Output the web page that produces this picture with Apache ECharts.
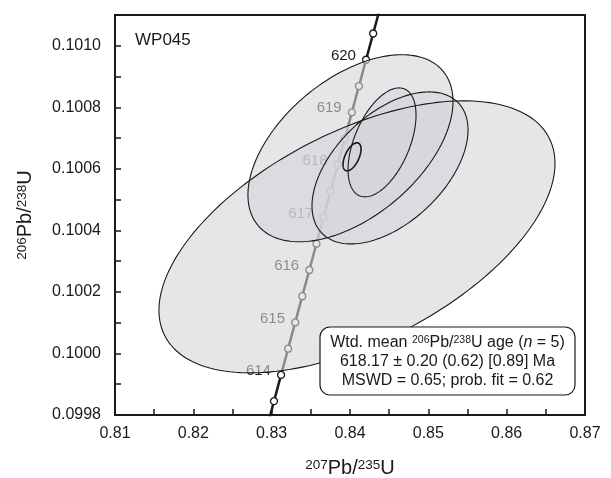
<!DOCTYPE html>
<html><head><meta charset="utf-8">
<script src="https://cdn.jsdelivr.net/npm/echarts@6/dist/echarts.min.js"></script>
<style>html,body{margin:0;padding:0;background:#fff}#c{width:611px;height:478px}</style>
</head><body><div id="c"></div>
<script>
// Concordia markers (every 0.5 Ma)
const ages  = [613.5, 614, 614.5, 615, 615.5, 616, 616.5, 617, 617.5, 618, 618.5, 619, 619.5, 620, 620.5];
const concX = [0.830299, 0.831200, 0.832102, 0.833004, 0.833907, 0.834810, 0.835713, 0.836617, 0.837522, 0.838427, 0.839332, 0.840238, 0.841144, 0.842050, 0.842957];
const concY = [0.0998449, 0.0999302, 0.1000155, 0.1001008, 0.1001861, 0.1002714, 0.1003567, 0.1004421, 0.1005275, 0.1006129, 0.1006983, 0.1007837, 0.1008691, 0.1009545, 0.1010399];
// curve ends beyond the plot frame
const tailX = [0.829398, 0.843864];
const tailY = [0.0997596, 0.1011253];

// Error ellipses: centre, half-extent in x and y, correlation
const ellCx  = [0.84089, 0.84006, 0.84511, 0.84409, 0.84026];
const ellCy  = [0.100379, 0.100667, 0.100603, 0.100686, 0.100639];
const ellSx  = [0.02528, 0.01309, 0.00996, 0.00434, 0.00115];
const ellSy  = [0.000442, 0.000304, 0.000247, 0.000177, 0.0000455];
const ellRho = [0.54, 0.50, 0.50, 0.50, 0.55];
const ellFilled = [true, true, true, true, false];

// Axes
const xMin = 0.81, xMax = 0.87, xStep = 0.005;
const yMin = 0.0998, yMax = 0.1011, yStep = 0.0001;

const FONT = "'Liberation Sans', Arial, Helvetica, sans-serif";
const INK = '#1a1a1a';

const chart = echarts.init(document.getElementById('c'), null, {renderer: 'canvas'});

const markerData = ages.map((a, i) => [concX[i], concY[i], a]);
const lineData = [[tailX[0], tailY[0]]].concat(ages.map((a, i) => [concX[i], concY[i]]), [[tailX[1], tailY[1]]]);
const ellData = ellCx.map((c, i) => [c, ellCy[i], i]);

function ellipsePoints(api, i) {
  const pts = [];
  const n = 180;
  const r = ellRho[i], q = Math.sqrt(1 - r * r);
  for (let k = 0; k <= n; k++) {
    const t = 2 * Math.PI * k / n;
    const x = ellCx[i] + ellSx[i] * Math.cos(t);
    const y = ellCy[i] + ellSy[i] * (r * Math.cos(t) + q * Math.sin(t));
    pts.push(api.coord([x, y]));
  }
  return pts;
}

const option = {
  animation: false,
  backgroundColor: '#fff',
  grid: {left: 115, right: 26, top: 15, bottom: 63, show: true, borderColor: INK, borderWidth: 2,
         backgroundColor: 'transparent', containLabel: false, outerBoundsMode: 'none'},
  xAxis: {
    type: 'value', min: xMin, max: xMax, interval: xStep,
    name: '{s|207}{m|Pb/}{s|235}{m|U}', nameLocation: 'middle', nameGap: 43,
    nameTextStyle: {rich: {
      m: {fontSize: 20, fontFamily: FONT, color: INK},
      s: {fontSize: 13.5, fontFamily: FONT, color: INK, verticalAlign: 'top'}
    }},
    axisLine: {show: true, lineStyle: {color: INK, width: 2}},
    axisTick: {show: true, inside: true, length: 6, lineStyle: {color: INK, width: 1.5}},
    splitLine: {show: false},
    axisLabel: {
      margin: 11, fontSize: 16, fontFamily: FONT, color: INK,
      formatter: v => (Math.round(v * 1000) % 10 === 0 ? v.toFixed(2) : '')
    }
  },
  yAxis: {
    type: 'value', min: yMin, max: yMax, interval: yStep,
    name: '{s|206}{m|Pb/}{s|238}{m|U}', nameLocation: 'middle', nameGap: 80, nameRotate: 90,
    nameTextStyle: {rich: {
      m: {fontSize: 20, fontFamily: FONT, color: INK},
      s: {fontSize: 13.5, fontFamily: FONT, color: INK, verticalAlign: 'top'}
    }},
    axisLine: {show: true, lineStyle: {color: INK, width: 2}},
    axisTick: {show: true, inside: true, length: 6, lineStyle: {color: INK, width: 1.5}},
    splitLine: {show: false},
    axisLabel: {
      margin: 14, fontSize: 16, fontFamily: FONT, color: INK,
      formatter: v => (Math.round(v * 10000) % 2 === 0 ? v.toFixed(4) : '')
    }
  },
  series: [
    {
      type: 'line', data: lineData, z: 2, symbol: 'none', clip: true, silent: true,
      lineStyle: {color: INK, width: 2.5}
    },
    {
      type: 'scatter', data: markerData, z: 3, symbol: 'circle', symbolSize: 7, silent: true,
      itemStyle: {color: '#fff', borderColor: INK, borderWidth: 1.3, opacity: 1},
      label: {
        show: true, position: 'left', distance: 6, offset: [0, -4],
        fontSize: 15, fontFamily: FONT, color: INK,
        formatter: p => (Number.isInteger(p.value[2]) ? String(p.value[2]) : '')
      }
    },
    {
      type: 'custom', data: ellData, z: 4, silent: true, clip: true,
      renderItem: (params, api) => {
        const i = params.dataIndex;
        if (!ellFilled[i]) return null;
        return {type: 'polygon', shape: {points: ellipsePoints(api, i)},
          style: {fill: 'rgba(212,213,217,0.6)', stroke: null}};
      }
    },
    {
      type: 'custom', data: ellData, z: 5, silent: true, clip: true,
      renderItem: (params, api) => {
        const i = params.dataIndex;
        return {type: 'polygon', shape: {points: ellipsePoints(api, i)},
          style: {fill: null, stroke: INK, lineWidth: ellFilled[i] ? 1.1 : 1.6}};
      }
    }
  ],
  graphic: [
    {type: 'text', x: 135, y: 40, z: 10,
     style: {text: 'WP045', fontSize: 17, fontFamily: FONT, fill: INK, verticalAlign: 'middle', align: 'left'}},
    {type: 'rect', z: 20, shape: {x: 320, y: 327, width: 255, height: 68, r: 10},
     style: {fill: '#fff', stroke: INK, lineWidth: 1.2}},
    {type: 'text', x: 447.5, y: 343, z: 21,
     style: {
       text: '{a|Wtd. mean }{s|206}{a|Pb/}{s|238}{a|U age (}{i|n}{a| = 5)}',
       align: 'center', verticalAlign: 'middle',
       rich: {
         a: {fontSize: 16, fontFamily: FONT, fill: INK},
         s: {fontSize: 10.5, fontFamily: FONT, fill: INK, verticalAlign: 'top'},
         i: {fontSize: 16, fontFamily: FONT, fill: INK, fontStyle: 'italic'}
       }
     }},
    {type: 'text', x: 447.5, y: 362, z: 21,
     style: {text: '618.17 \u00b1 0.20 (0.62) [0.89] Ma', align: 'center', verticalAlign: 'middle',
       fontSize: 16, fontFamily: FONT, fill: INK}},
    {type: 'text', x: 447.5, y: 381, z: 21,
     style: {text: 'MSWD = 0.65; prob. fit = 0.62', align: 'center', verticalAlign: 'middle',
       fontSize: 16, fontFamily: FONT, fill: INK}}
  ]
};
chart.setOption(option);
</script>
</body></html>
